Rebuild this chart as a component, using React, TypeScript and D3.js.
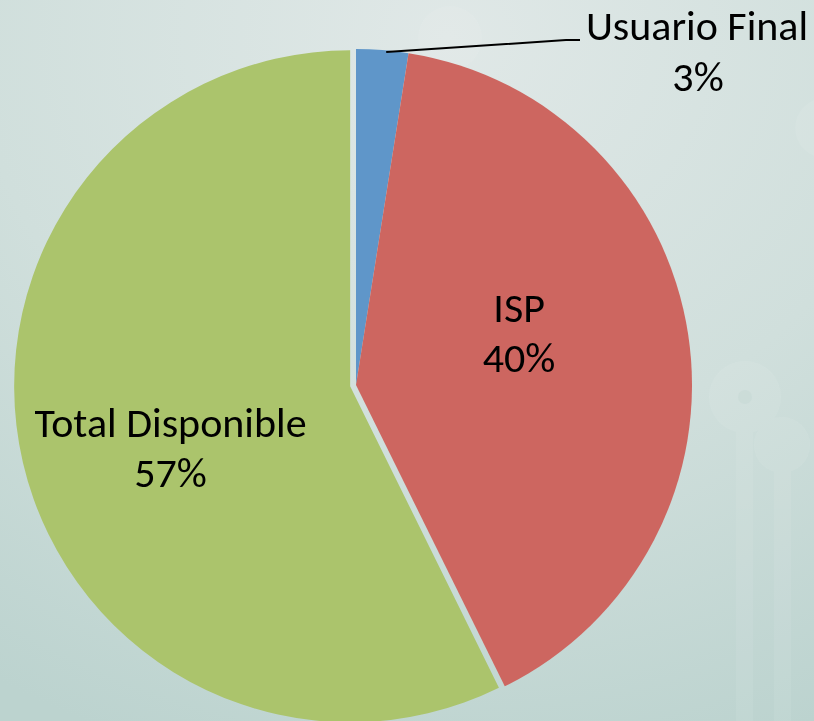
import React from "react";
import * as d3 from "d3";

const categories = ["Usuario Final", "ISP", "Total Disponible"];
const values = [2.5, 40.2, 57.3];
const pctLabels = ["3%", "40%", "57%"];
const colors = ["#5f96c9", "#cd6660", "#abc46c"];
const explode = [0, 0, 6];

const W = 814;
const H = 721;

export default function App() {
  const cx = 356;
  const cy = 385;
  const r = 336;
  const pie = d3.pie<number>().sort(null).value((d) => d);
  const arcs = pie(values);
  const arc = d3.arc<d3.PieArcDatum<number>>().innerRadius(0).outerRadius(r);
  // nudges so the labels sit where the original chart placed them
  const nudges: [number, number][] = [
    [0, 0],
    [-3, -13],
    [-16, 37],
  ];

  const font = "Carlito, Lato, 'Open Sans', sans-serif";

  return (
    <svg
      width={W}
      height={H}
      style={{ position: "fixed", left: 0, top: 0, display: "block" }}
    >
      <defs>
        <radialGradient id="bg" cx="0.55" cy="0.05" r="1.05">
          <stop offset="0" stopColor="#e0e8e7" />
          <stop offset="0.55" stopColor="#d0dfdc" />
          <stop offset="1" stopColor="#bcd3cf" />
        </radialGradient>
      </defs>
      <rect width={W} height={H} fill="url(#bg)" />
      <g fill="#ffffff" opacity={0.07}>
        <circle cx={450} cy={38} r={32} />
        <circle cx={745} cy={397} r={36} />
        <circle cx={782} cy={445} r={28} />
        <circle cx={825} cy={128} r={30} />
        <rect x={736} y={430} width={17} height={300} />
        <rect x={774} y={470} width={17} height={260} />
      </g>
      <circle cx={745} cy={397} r={7} fill="#b5cbc8" opacity={0.2} />
      <g>
        {arcs.map((a, i) => {
          const mid = (a.startAngle + a.endAngle) / 2;
          const dx = Math.sin(mid) * explode[i];
          const dy = -Math.cos(mid) * explode[i];
          return (
            <path
              key={categories[i]}
              d={arc(a) || ""}
              fill={colors[i]}
              transform={`translate(${cx + dx},${cy + dy})`}
            />
          );
        })}
      </g>
      {(() => {
        const a = arcs[0];
        const mid = (a.startAngle + a.endAngle) / 2;
        const x0 = cx + Math.sin(mid) * (r - 2) + 4;
        const y0 = cy - Math.cos(mid) * (r - 2);
        return (
          <polyline
            points={`${x0},${y0} 566,40 580,40`}
            fill="none"
            stroke="#000"
            strokeWidth={2}
          />
        );
      })()}
      <g fontFamily={font} fontSize={42} fill="#000" textAnchor="middle">
        <text x={697} y={40}>{categories[0]}</text>
        <text x={698} y={91}>{pctLabels[0]}</text>
        {arcs.slice(1).map((a, j) => {
          const i = j + 1;
          const [lx, ly] = arc.centroid(a);
          const mid = (a.startAngle + a.endAngle) / 2;
          const dx = Math.sin(mid) * explode[i];
          const dy = -Math.cos(mid) * explode[i];
          const x = cx + lx + dx + nudges[i][0];
          const y = cy + ly + dy + nudges[i][1];
          return (
            <g key={categories[i]}>
              <text x={x} y={y - 25}>{categories[i]}</text>
              <text x={x} y={y + 25}>{pctLabels[i]}</text>
            </g>
          );
        })}
      </g>
    </svg>
  );
}
